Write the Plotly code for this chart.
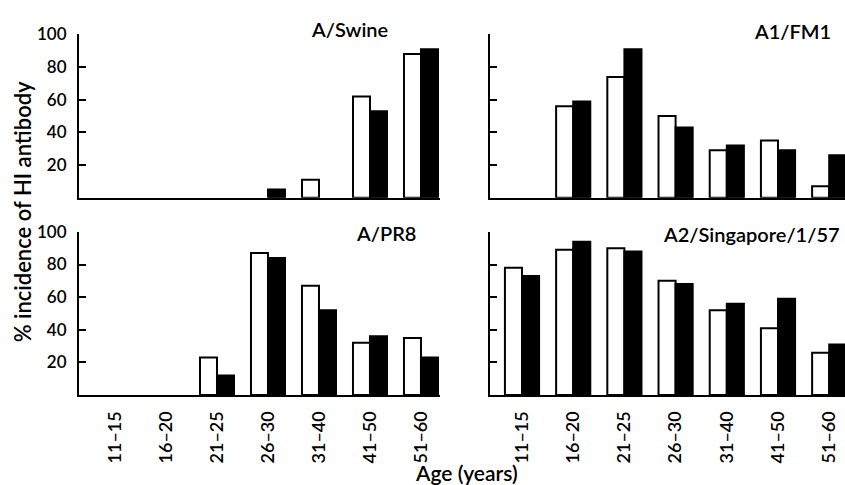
import plotly.graph_objects as go

W, H = 845, 485

age_groups = ["11–15", "16–20", "21–25", "26–30", "31–40", "41–50", "51–60"]

panel_names = ["A/Swine", "A1/FM1", "A/PR8", "A2/Singapore/1/57"]

swine_white = [0, 0, 0, 0, 11, 62, 88]
swine_black = [0, 0, 0, 5, 0, 53, 91]

fm1_white = [0, 56, 74, 50, 29, 35, 7]
fm1_black = [0, 59, 91, 43, 32, 29, 26]

pr8_white = [0, 0, 23, 87, 67, 32, 35]
pr8_black = [0, 0, 12, 84, 52, 36, 23]

sing_white = [78, 89, 90, 70, 52, 41, 26]
sing_black = [73, 94, 88, 68, 56, 59, 31]

y_ticks = [20, 40, 60, 80, 100]

FONT = "Lato"
WEIGHT = 600


def px_x(p):
    return p / W


def px_y(p):
    return 1 - p / H


fig = go.Figure()

panels = [
    ("x", "y", swine_white, swine_black),
    ("x2", "y2", fm1_white, fm1_black),
    ("x3", "y3", pr8_white, pr8_black),
    ("x4", "y4", sing_white, sing_black),
]

for xa, ya, wv, bv in panels:
    fig.add_trace(go.Bar(x=age_groups, y=wv, xaxis=xa, yaxis=ya,
                         marker=dict(color="white",
                                     line=dict(color="black",
                                               width=[2 if v > 0 else 0 for v in wv])),
                         showlegend=False, hoverinfo="skip"))
    fig.add_trace(go.Bar(x=age_groups, y=bv, xaxis=xa, yaxis=ya,
                         marker=dict(color="black",
                                     line=dict(color="black",
                                               width=[2 if v > 0 else 0 for v in bv])),
                         showlegend=False, hoverinfo="skip"))

# domains (pixel based)
left_dom = [px_x(79), px_x(440)]
right_dom = [px_x(490), 1.0]
top_dom = [px_y(191), px_y(24)]
bot_dom = [px_y(393), px_y(226)]

left_range = [-0.706, 6.373]
right_range = [-0.625, -0.625 + 355 / 51.2]


def xaxis_cfg(dom, rng, anchor, labels):
    return dict(domain=dom, range=rng, anchor=anchor, type="category",
                showline=True, linecolor="black", linewidth=2,
                showgrid=False, zeroline=False,
                ticks="", showticklabels=labels, tickangle=-90,
                tickfont=dict(family=FONT, size=18, color="black", weight=WEIGHT),
                ticklabelstandoff=7, fixedrange=True)


def yaxis_cfg(dom, anchor, labels):
    return dict(domain=dom, range=[0, 100], anchor=anchor,
                showline=True, linecolor="black", linewidth=2,
                showgrid=False, zeroline=False,
                tickvals=y_ticks, ticks="inside", ticklen=7, tickwidth=2,
                tickcolor="black", showticklabels=labels,
                tickfont=dict(family=FONT, size=17, color="black", weight=WEIGHT),
                ticklabelstandoff=7, fixedrange=True)


fig.update_layout(
    width=W, height=H,
    margin=dict(l=0, r=0, t=0, b=0),
    paper_bgcolor="white", plot_bgcolor="white",
    barmode="group", bargap=0.333, bargroupgap=0,
    font=dict(family=FONT, color="black"),
    xaxis=xaxis_cfg(left_dom, left_range, "y", False),
    yaxis=yaxis_cfg(top_dom, "x", True),
    xaxis2=xaxis_cfg(right_dom, right_range, "y2", False),
    yaxis2=yaxis_cfg(top_dom, "x2", False),
    xaxis3=xaxis_cfg(left_dom, left_range, "y3", True),
    yaxis3=yaxis_cfg(bot_dom, "x3", True),
    xaxis4=xaxis_cfg(right_dom, right_range, "y4", True),
    yaxis4=yaxis_cfg(bot_dom, "x4", False),
)

label_pos = [(390, 18), (833, 20), (418, 227), (842, 228)]
for name, (lx, ly) in zip(panel_names, label_pos):
    fig.add_annotation(text=name, xref="paper", yref="paper",
                       x=px_x(lx), y=px_y(ly), xanchor="right", yanchor="middle",
                       showarrow=False,
                       font=dict(family=FONT, size=20, color="black", weight=WEIGHT))

fig.add_annotation(text="% incidence of HI antibody", xref="paper", yref="paper",
                   x=px_x(22), y=px_y(206), xanchor="center", yanchor="middle",
                   textangle=-90, showarrow=False,
                   font=dict(family=FONT, size=22, color="black", weight=WEIGHT))

fig.add_annotation(text="Age (years)", xref="paper", yref="paper",
                   x=px_x(467), y=px_y(472), xanchor="center", yanchor="middle",
                   showarrow=False,
                   font=dict(family=FONT, size=21, color="black", weight=WEIGHT))

fig.write_html("out.html", config={"displayModeBar": False},
               post_script="document.body.style.margin='0';document.body.style.overflow='hidden';")
